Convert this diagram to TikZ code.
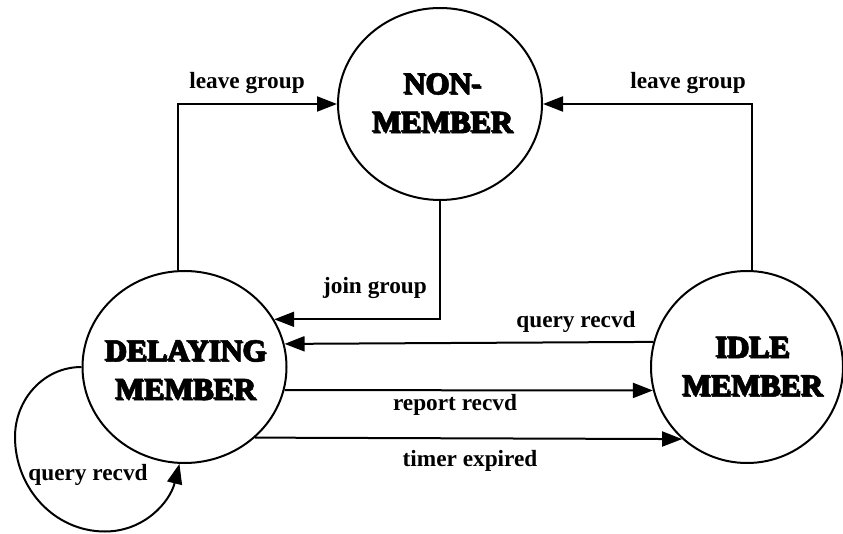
\documentclass[tikz,border=0pt]{standalone}
\usepackage{fontspec}
\setmainfont{Liberation Serif}
\newfontfamily\statefont{Liberation Serif}[BoldFeatures={FakeBold=1.5}]
\usetikzlibrary{arrows.meta,shapes.geometric}
\begin{document}
\begin{tikzpicture}[x=1pt,y=1pt,
  state/.style={draw, ellipse, line width=2pt, minimum width=204pt,
    minimum height=192pt, inner sep=0pt},
  idlestate/.style={state, minimum width=192pt},
  arr/.style={line width=2pt, -{Triangle[length=20pt,width=15pt]}},
  lbl/.style={font=\fontsize{23.3}{28}\selectfont\bfseries, inner sep=0pt},
  big/.style={font=\statefont\fontsize{30.5}{38.5}\selectfont\bfseries,
    align=center, inner sep=0pt},
  bigshadow/.style={big, xshift=1.4pt, yshift=-1.4pt}]
\useasboundingbox (0,0) rectangle (843,533);

% states
\node[state] (non) at (440,429) {};
\node[state] (del) at (184.5,166) {};
\node[idlestate] (idle) at (747,166) {};

% state names, drawn with a small drop shadow
\node[bigshadow] (nonS) at (442,430.6) {NON-\\MEMBER};
\node[big] (nonT) at (442,430.6) {NON-\\MEMBER};
\node[bigshadow] (delS) at (185,163.5) {DELAYING\\MEMBER};
\node[big] (delT) at (185,163.5) {DELAYING\\MEMBER};
\node[bigshadow] (idleS) at (752,167) {IDLE\\MEMBER};
\node[big] (idleT) at (752,167) {IDLE\\MEMBER};

% transitions
\draw[arr] ([xshift=-6.5pt]del.north) |- (non.west);
\draw[arr] ([xshift=5pt]idle.north) |- (non.east);
\draw[arr] (non.south) |- (del.28.5);
\draw[arr] (idle.165.52) -- (del.13.66);
\draw[arr] (del.-13.07) -- (idle.-166.14);
\draw[arr] (del.-45.9) -- (idle.-132.3);
\draw[arr] (del.west) to[out=180,in=90] (15,96)
  to[out=-90,in=180] (105,1.5) to[out=0,in=-104] (del.-93);

% transition labels
\node[lbl] (l1) at (247,450) {leave group};
\node[lbl] (l2) at (688,450) {leave group};
\node[lbl] (l3) at (375,245) {join group};
\node[lbl] (l4) at (576,211) {query recvd};
\node[lbl] (l5) at (455,128) {report recvd};
\node[lbl] (l6) at (470,72) {timer expired};
\node[lbl] (l7) at (88,58) {query recvd};
\end{tikzpicture}
\end{document}
